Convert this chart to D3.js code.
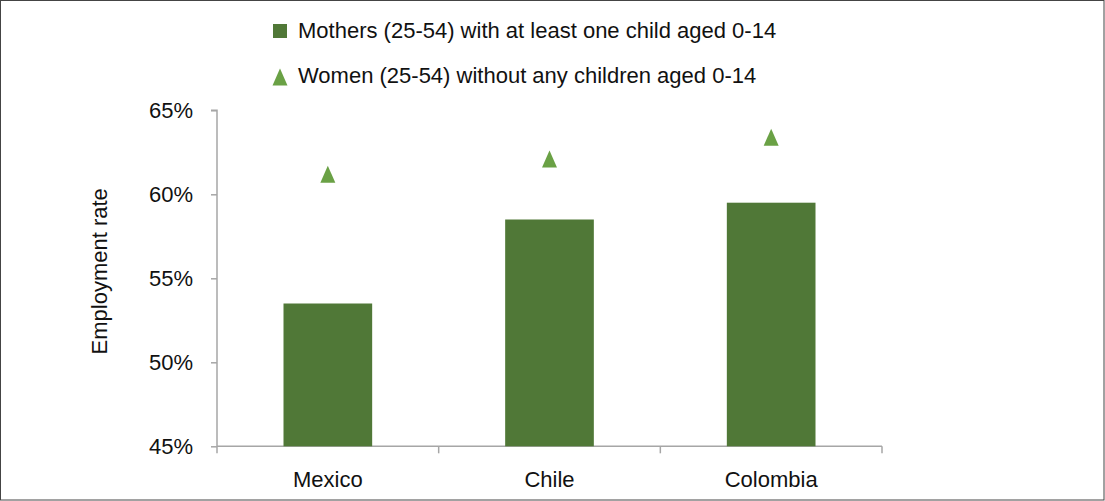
<!DOCTYPE html>
<html><head><meta charset="utf-8">
<script src="https://cdn.jsdelivr.net/npm/d3@7"></script>
<style>
html,body{margin:0;padding:0;background:#fff;}
svg{display:block;font-family:"Liberation Sans",Arial,sans-serif;}
</style></head>
<body><svg id="c" width="1105" height="501"></svg>
<script>
const categories = ["Mexico", "Chile", "Colombia"];
const mothers = [53.5, 58.5, 59.5];
const women = [61.2, 62.1, 63.4];
const yTicks = [45, 50, 55, 60, 65];
const seriesNames = ["Mothers (25-54) with at least one child aged 0-14", "Women (25-54) without any children aged 0-14"];
const yTitle = "Employment rate";

(function () {
const svg = d3.select("#c");
const W = 1105, H = 501;
const barColor = "#507837", triColor = "#6aa145", axisColor = "#a6a6a6";
const FS = 22;

svg.append("rect").attr("x", 0.5).attr("y", 0.5).attr("width", W - 1.5).attr("height", H - 1.5)
  .attr("fill", "#fff").attr("stroke", "#444").attr("stroke-width", 1);

const pL = 217, pR = 882, pT = 110.3, pB = 446.3;
const x = d3.scaleBand().domain(categories).range([pL, pR]).padding(0);
const y = d3.scaleLinear().domain([45, 65]).range([pB, pT]);

// triangle path centred on its bounding box
function triPath(w, h) {
  const p = d3.path();
  p.moveTo(0, -h / 2); p.lineTo(w / 2, h / 2); p.lineTo(-w / 2, h / 2); p.closePath();
  return p.toString();
}

// y axis
const ya = svg.append("g").attr("transform", `translate(${pL},0)`)
  .call(d3.axisLeft(y).tickValues(yTicks).tickSize(6).tickPadding(18).tickFormat(d => d + "%"));
ya.selectAll("path,line").attr("stroke", axisColor).attr("stroke-width", 1.5);
ya.select(".domain").attr("d", `M-6,${pT}H0V${pB}`);
ya.selectAll("text").attr("font-size", FS).attr("fill", "#111").attr("font-family", "Liberation Sans, Arial, sans-serif");

// x axis
const xa = svg.append("g").attr("transform", `translate(0,${pB})`);
xa.append("line").attr("x1", pL).attr("x2", pR).attr("y1", 0).attr("y2", 0).attr("stroke", axisColor).attr("stroke-width", 1.5);
const bounds = categories.map(c => x(c)).concat([x(categories[categories.length - 1]) + x.bandwidth()]);
xa.selectAll("line.t").data(bounds).join("line").attr("class", "t")
  .attr("x1", d => d).attr("x2", d => d).attr("y1", 0).attr("y2", 7).attr("stroke", axisColor).attr("stroke-width", 1.5);
xa.selectAll("text").data(categories).join("text")
  .attr("x", d => x(d) + x.bandwidth() / 2).attr("y", 41)
  .attr("text-anchor", "middle").attr("font-size", FS).attr("fill", "#111").text(d => d);

// bars
const bw = x.bandwidth() * 0.4;
svg.selectAll("rect.bar").data(categories).join("rect").attr("class", "bar")
  .attr("x", d => x(d) + (x.bandwidth() - bw) / 2)
  .attr("width", bw)
  .attr("y", (d, i) => y(mothers[i]))
  .attr("height", (d, i) => pB - y(mothers[i]))
  .attr("fill", barColor);

// triangles
const tri = triPath(15, 17);
svg.selectAll("path.tri").data(categories).join("path").attr("class", "tri")
  .attr("d", tri)
  .attr("transform", (d, i) => `translate(${x(d) + x.bandwidth() / 2},${y(women[i])})`)
  .attr("fill", triColor);

// y title
svg.append("text").attr("transform", `translate(107,${(pT + pB) / 2 - 7}) rotate(-90)`)
  .attr("text-anchor", "middle").attr("font-size", FS).attr("fill", "#111").text(yTitle);

// legend
const lg = svg.append("g");
lg.append("rect").attr("x", 273).attr("y", 24).attr("width", 14).attr("height", 14).attr("fill", barColor);
lg.append("path").attr("d", tri).attr("transform", "translate(280,77)").attr("fill", triColor);
lg.append("text").attr("x", 298).attr("y", 38).attr("font-size", FS).attr("fill", "#111").text(seriesNames[0]);
lg.append("text").attr("x", 298).attr("y", 83).attr("font-size", FS).attr("fill", "#111").text(seriesNames[1]);
})();
</script></body></html>
